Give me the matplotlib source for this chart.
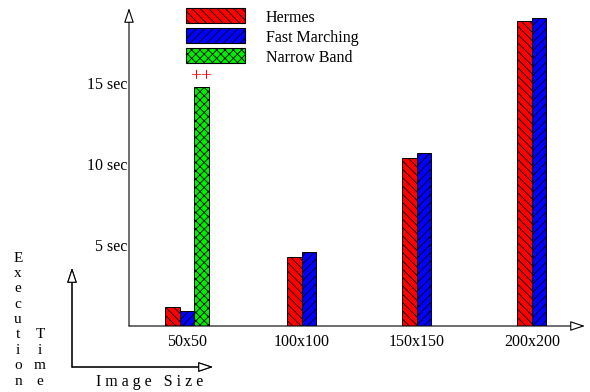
import matplotlib
matplotlib.use('Agg')
import matplotlib.pyplot as plt
from matplotlib.patches import Rectangle

plt.rcParams['font.family'] = ['Liberation Serif', 'DejaVu Serif']
plt.rcParams['hatch.linewidth'] = 0.6

# data (seconds)
sizes = ['50x50', '100x100', '150x150', '200x200']
hermes = [1.2, 4.25, 10.4, 18.8]
fast_marching = [0.9, 4.55, 10.7, 19.0]
narrow_band = [14.75, None, None, None]
y_ticks = [5, 10, 15]
series_names = ['Hermes', 'Fast Marching', 'Narrow Band']
series_colors = ['#ff0000', '#0000ff', '#00ee00']
series_hatch = ['\\\\\\\\', '////', 'xxxx']

fig = plt.figure(figsize=(5.9, 3.92), dpi=100)
W, H = 590.0, 392.0
# main axes: origin at (129, 326) px, top at y=8, right at x=585
ax = fig.add_axes([129 / W, (H - 326) / H, 456 / W, 318 / H])

w = 0.126
for i, name in enumerate(sizes):
    if narrow_band[i] is None:
        offs = [-w / 2, w / 2]
        vals = [hermes[i], fast_marching[i]]
    else:
        offs = [-w, 0, w]
        vals = [hermes[i], fast_marching[i], narrow_band[i]]
    for k, (o, v) in enumerate(zip(offs, vals)):
        ax.bar(i + o, v, width=w, color=series_colors[k], edgecolor='black',
               linewidth=0.7, hatch=series_hatch[k])
    if narrow_band[i] is not None:
        ax.text(i + w, narrow_band[i] + 0.1, '++', color='red', ha='center',
                va='bottom', fontsize=14)

ax.set_xlim(-0.504, 3.461)
ax.set_ylim(0, 19.63)
ax.set_xticks(range(len(sizes)))
ax.set_xticklabels(sizes, fontsize=11.5)
ax.set_yticks(y_ticks)
ax.set_yticklabels([f'{t} sec' for t in y_ticks], fontsize=11.5)
ax.tick_params(axis='both', length=0)
ax.tick_params(axis='x', pad=6)
ax.tick_params(axis='y', pad=1)
for s in ax.spines.values():
    s.set_visible(False)

arrow = dict(arrowstyle='-|>,head_length=0.9,head_width=0.3', fc='white',
             ec='black', lw=0.8, shrinkA=0, shrinkB=0)
ax.annotate('', xy=(0, 1), xytext=(0, 0), xycoords='axes fraction', arrowprops=arrow)
ax.annotate('', xy=(1, 0), xytext=(0, 0), xycoords='axes fraction', arrowprops=arrow)

# legend drawn as boxes in figure space
for k, name in enumerate(series_names):
    y0 = 8 + 20 * k
    fig.patches.append(Rectangle((186 / W, (H - y0 - 15) / H), 59 / W, 15 / H,
                                 transform=fig.transFigure, facecolor=series_colors[k],
                                 edgecolor='black', linewidth=0.8,
                                 hatch=series_hatch[k]))
    fig.text(266 / W, (H - y0 - 10) / H, name, fontsize=11.5, va='center', ha='left')

# small axis-key arrows at bottom left
fig.add_artist(plt.annotate('', xy=(72 / W, (H - 268) / H), xytext=(72 / W, (H - 367) / H),
                            xycoords='figure fraction', arrowprops=arrow))
fig.add_artist(plt.annotate('', xy=(213 / W, (H - 367) / H), xytext=(72 / W, (H - 367) / H),
                            xycoords='figure fraction', arrowprops=arrow))

fig.text(150 / W, (H - 382) / H, 'I m a g e   S i z e', fontsize=11.5,
         ha='center', va='center')

for j, ch in enumerate('Execution'):
    fig.text(18 / W, (H - 258 - 15.4 * j) / H, ch, fontsize=11, ha='center', va='center')
for j, ch in enumerate('Time'):
    fig.text(40 / W, (H - 258 - 15.4 * (j + 5)) / H, ch, fontsize=11, ha='center', va='center')

fig.savefig('out.png', dpi=100)
